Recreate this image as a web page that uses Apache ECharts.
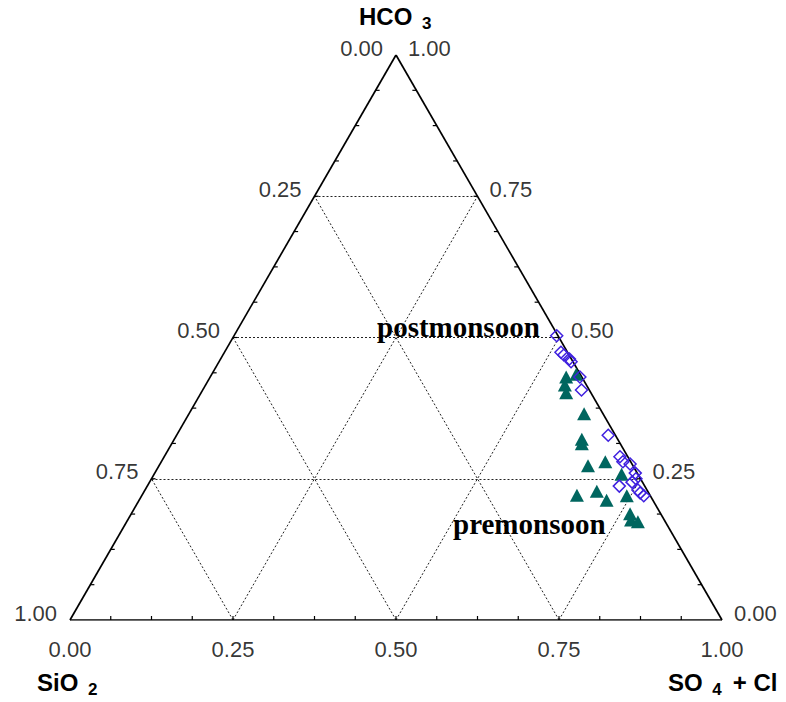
<!DOCTYPE html>
<html>
<head>
<meta charset="utf-8">
<script src="https://cdn.jsdelivr.net/npm/echarts@6/dist/echarts.min.js"></script>
<style>
  html, body { margin: 0; padding: 0; background: #fff; }
  #chart { width: 786px; height: 702px; }
</style>
</head>
<body>
<div id="chart"></div>
<script>
// ternary grid values and edge labels
const gridSteps = [0.25, 0.5, 0.75];
const edgeTicks = [0, 0.25, 0.5, 0.75, 1];
const edgeTickText = ["0.00", "0.25", "0.50", "0.75", "1.00"];
const minorCount = 16; // small ticks every 1/16

// postmonsoon (diamonds), fractions
const postSO4Cl = [0.495, 0.516, 0.523, 0.535, 0.540, 0.567, 0.581, 0.662, 0.699, 0.708, 0.721, 0.737, 0.740, 0.743, 0.724, 0.756, 0.770, 0.762];
const postHCO3  = [0.503, 0.474, 0.469, 0.462, 0.457, 0.430, 0.407, 0.327, 0.289, 0.280, 0.276, 0.260, 0.244, 0.250, 0.237, 0.230, 0.220, 0.225];
const postSiO2  = [0.002, 0.010, 0.008, 0.003, 0.003, 0.003, 0.012, 0.011, 0.012, 0.012, 0.003, 0.003, 0.016, 0.007, 0.039, 0.014, 0.010, 0.013];

// premonsoon (triangles), fractions
const preSO4Cl = [0.546, 0.551, 0.560, 0.559, 0.606, 0.625, 0.629, 0.658, 0.681, 0.717, 0.667, 0.694, 0.717, 0.744, 0.765, 0.772, 0.784];
const preHCO3  = [0.430, 0.416, 0.402, 0.435, 0.365, 0.320, 0.312, 0.273, 0.280, 0.258, 0.221, 0.228, 0.212, 0.220, 0.188, 0.177, 0.174];
const preSiO2  = [0.024, 0.033, 0.038, 0.006, 0.029, 0.055, 0.059, 0.069, 0.039, 0.025, 0.112, 0.078, 0.071, 0.036, 0.047, 0.051, 0.042];

// ternary -> cartesian (x = SO4+Cl + HCO3/2, y = HCO3)
function tern(so4cl, hco3, sio2) {
  let t = so4cl + hco3 + sio2;
  let c = so4cl / t, h = hco3 / t;
  return [c + h / 2, h];
}

const chart = echarts.init(document.getElementById("chart"), null, { renderer: "svg" });

// frame
const frame = [
  { coords: [tern(0, 0, 1), tern(1, 0, 0)] },
  { coords: [tern(1, 0, 0), tern(0, 1, 0)] },
  { coords: [tern(0, 1, 0), tern(0, 0, 1)] },
];

// dotted grid lines
const gridLines = [];
gridSteps.forEach((v) => {
  gridLines.push({ coords: [tern(0, v, 1 - v), tern(1 - v, v, 0)] }); // const HCO3
  gridLines.push({ coords: [tern(v, 0, 1 - v), tern(v, 1 - v, 0)] }); // const SO4+Cl
  gridLines.push({ coords: [tern(1 - v, 0, v), tern(0, 1 - v, v)] }); // const SiO2
});

// small inward ticks
const tickData = [];
for (let k = 1; k < minorCount; k++) {
  let f = k / minorCount;
  tickData.push(tern(f, 0, 1 - f).concat([0, -1]));   // bottom
  tickData.push(tern(0, 1 - f, f).concat([1, 0]));    // left
  tickData.push(tern(1 - f, f, 0).concat([-1, 0]));   // right
}

// edge labels
const bottomLbl = edgeTicks.map((v, i) => ({ value: tern(v, 0, 1 - v), name: edgeTickText[i] }));
const leftLbl = edgeTicks.map((v, i) => ({ value: tern(0, 1 - v, v), name: edgeTickText[i] }));
const rightLbl = edgeTicks.map((v, i) => ({ value: tern(1 - v, v, 0), name: edgeTickText[i] }));

const postData = postSO4Cl.map((c, i) => tern(c, postHCO3[i], postSiO2[i]));
const preData = preSO4Cl.map((c, i) => tern(c, preHCO3[i], preSiO2[i]));

const lblFont = { fontFamily: "Liberation Sans, Arial, sans-serif", fontSize: 22, color: "#000" };

function labelSeries(data, position, distance, offset) {
  return {
    type: "scatter",
    data: data,
    symbolSize: 0,
    silent: true,
    label: Object.assign({
      show: true,
      position: position,
      distance: distance,
      offset: offset,
      formatter: (p) => p.name,
    }, lblFont),
  };
}

const titleFont = { fontFamily: "Liberation Sans, Arial, sans-serif", fontWeight: "bold", lineHeight: 32, color: "#000" };
const titleRich = {
  b: Object.assign({ fontSize: 24, verticalAlign: "middle" }, titleFont),
  s: Object.assign({ fontSize: 17, verticalAlign: "bottom", padding: [0, 3, 0, 3] }, titleFont),
  s2: Object.assign({ fontSize: 17, verticalAlign: "bottom", padding: [0, 11, 0, 3] }, titleFont),
};

const option = {
  animation: false,
  backgroundColor: "#fff",
  grid: { left: 70, right: 64, top: 55, bottom: 82 },
  xAxis: { type: "value", min: 0, max: 1, show: false },
  yAxis: { type: "value", min: 0, max: 1, show: false },
  graphic: [
    { type: "text", left: 359, top: 4, style: { text: "{b|HCO }{s|3}", rich: titleRich } },
    { type: "text", left: 37, top: 670, style: { text: "{b|SiO }{s|2}", rich: titleRich } },
    { type: "text", left: 668, top: 670, style: { text: "{b|SO }{s2|4}{b|+ Cl}", rich: titleRich } },
    {
      type: "text", x: 377, y: 327, z: 100,
      style: { text: "postmonsoon", font: "bold 29px 'Liberation Serif', 'Times New Roman', serif", fill: "#000", verticalAlign: "middle" },
    },
    {
      type: "text", x: 453, y: 524, z: 100,
      style: { text: "premonsoon", font: "bold 29px 'Liberation Serif', 'Times New Roman', serif", fill: "#000", verticalAlign: "middle" },
    },
  ],
  series: [
    {
      type: "lines",
      coordinateSystem: "cartesian2d",
      data: gridLines,
      silent: true,
      lineStyle: { color: "#222", width: 1, type: [2, 2], opacity: 1 },
    },
    {
      type: "lines",
      coordinateSystem: "cartesian2d",
      data: frame,
      silent: true,
      lineStyle: { color: "#000", width: 1.7, opacity: 1 },
    },
    {
      type: "custom",
      data: tickData,
      silent: true,
      renderItem: function (params, api) {
        let p = api.coord([api.value(0), api.value(1)]);
        return {
          type: "line",
          shape: { x1: p[0], y1: p[1], x2: p[0] + api.value(2) * 4, y2: p[1] + api.value(3) * 4 },
          style: { stroke: "#000", lineWidth: 1.2 },
        };
      },
    },
    {
      name: "premonsoon",
      type: "scatter",
      data: preData,
      symbol: "triangle",
      symbolSize: [14, 13],
      itemStyle: { color: "#00665f", opacity: 1 },
      z: 3,
    },
    {
      name: "postmonsoon",
      type: "scatter",
      data: postData,
      symbol: "diamond",
      symbolSize: [12, 12],
      itemStyle: { color: "rgba(255,255,255,0)", borderColor: "#3f20df", borderWidth: 1.5, opacity: 1 },
      z: 4,
    },
    labelSeries(bottomLbl, "bottom", 18, [0, 0]),
    labelSeries(leftLbl, "left", 13, [0, -7]),
    labelSeries(rightLbl, "right", 12, [0, -7]),
  ],
};

chart.setOption(option);
</script>
</body>
</html>
